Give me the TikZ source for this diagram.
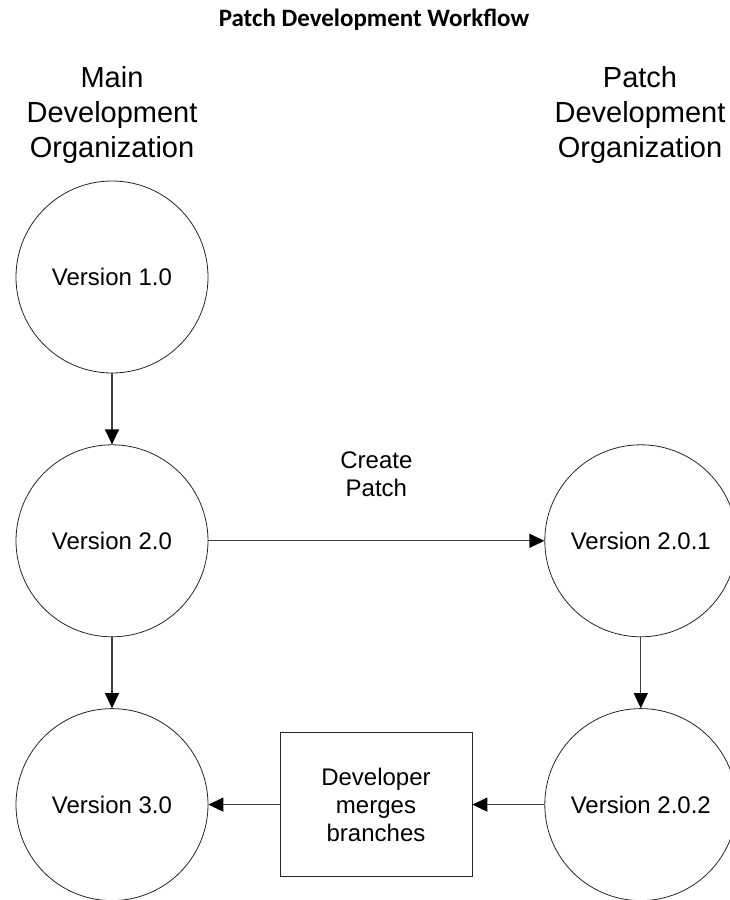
\documentclass[tikz,border=0pt]{standalone}
\usepackage{fontspec}
\setmainfont{Liberation Sans}
\newfontfamily\titlefont{Carlito}
\usepackage{tikz}
\usetikzlibrary{arrows.meta, positioning}

\begin{document}
\begin{tikzpicture}[
  x=1pt, y=-1pt,
  version/.style={circle, draw=black!85, line width=0.8pt, minimum size=192pt,
    inner sep=0pt, font=\fontsize{24}{28}\selectfont},
  mergebox/.style={rectangle, draw=black!85, line width=0.8pt, minimum width=192pt,
    minimum height=144pt, align=center, font=\fontsize{24}{28}\selectfont},
  orghead/.style={align=center, font=\fontsize{29}{35}\selectfont},
  flowlabel/.style={align=center, inner sep=0pt, font=\fontsize{24}{28}\selectfont},
  flow/.style={draw=black!75, line width=1.2pt,
    -{Triangle[length=15pt, width=14pt, color=black]}},
]
\useasboundingbox (0,0) rectangle (730,900);
\node[font=\titlefont\bfseries\fontsize{25}{30}\selectfont] (title) at (374,20) {Patch Development Workflow};
\node[orghead] (mainorg) at (112,115) {Main\\Development\\Organization};
\node[orghead] (patchorg) at (640,115) {Patch\\Development\\Organization};

\node[version] (v1) at (112,277) {Version 1.0};
\node[version, below=71pt of v1] (v2) {Version 2.0};
\node[version, below=71pt of v2] (v3) {Version 3.0};
\node[version, right=336pt of v2] (v201) {Version 2.0.1};
\node[version, below=71pt of v201] (v202) {Version 2.0.2};
\node[mergebox, left=72pt of v202] (merge) {Developer\\merges\\branches};

\draw[flow] (v1) -- (v2);
\draw[flow] (v2) -- node[flowlabel, above=43pt] {Create\\Patch} (v201);
\draw[flow] (v2) -- (v3);
\draw[flow] (v201) -- (v202);
\draw[flow] (v202) -- (merge);
\draw[flow] (merge) -- (v3);
\end{tikzpicture}
\end{document}
